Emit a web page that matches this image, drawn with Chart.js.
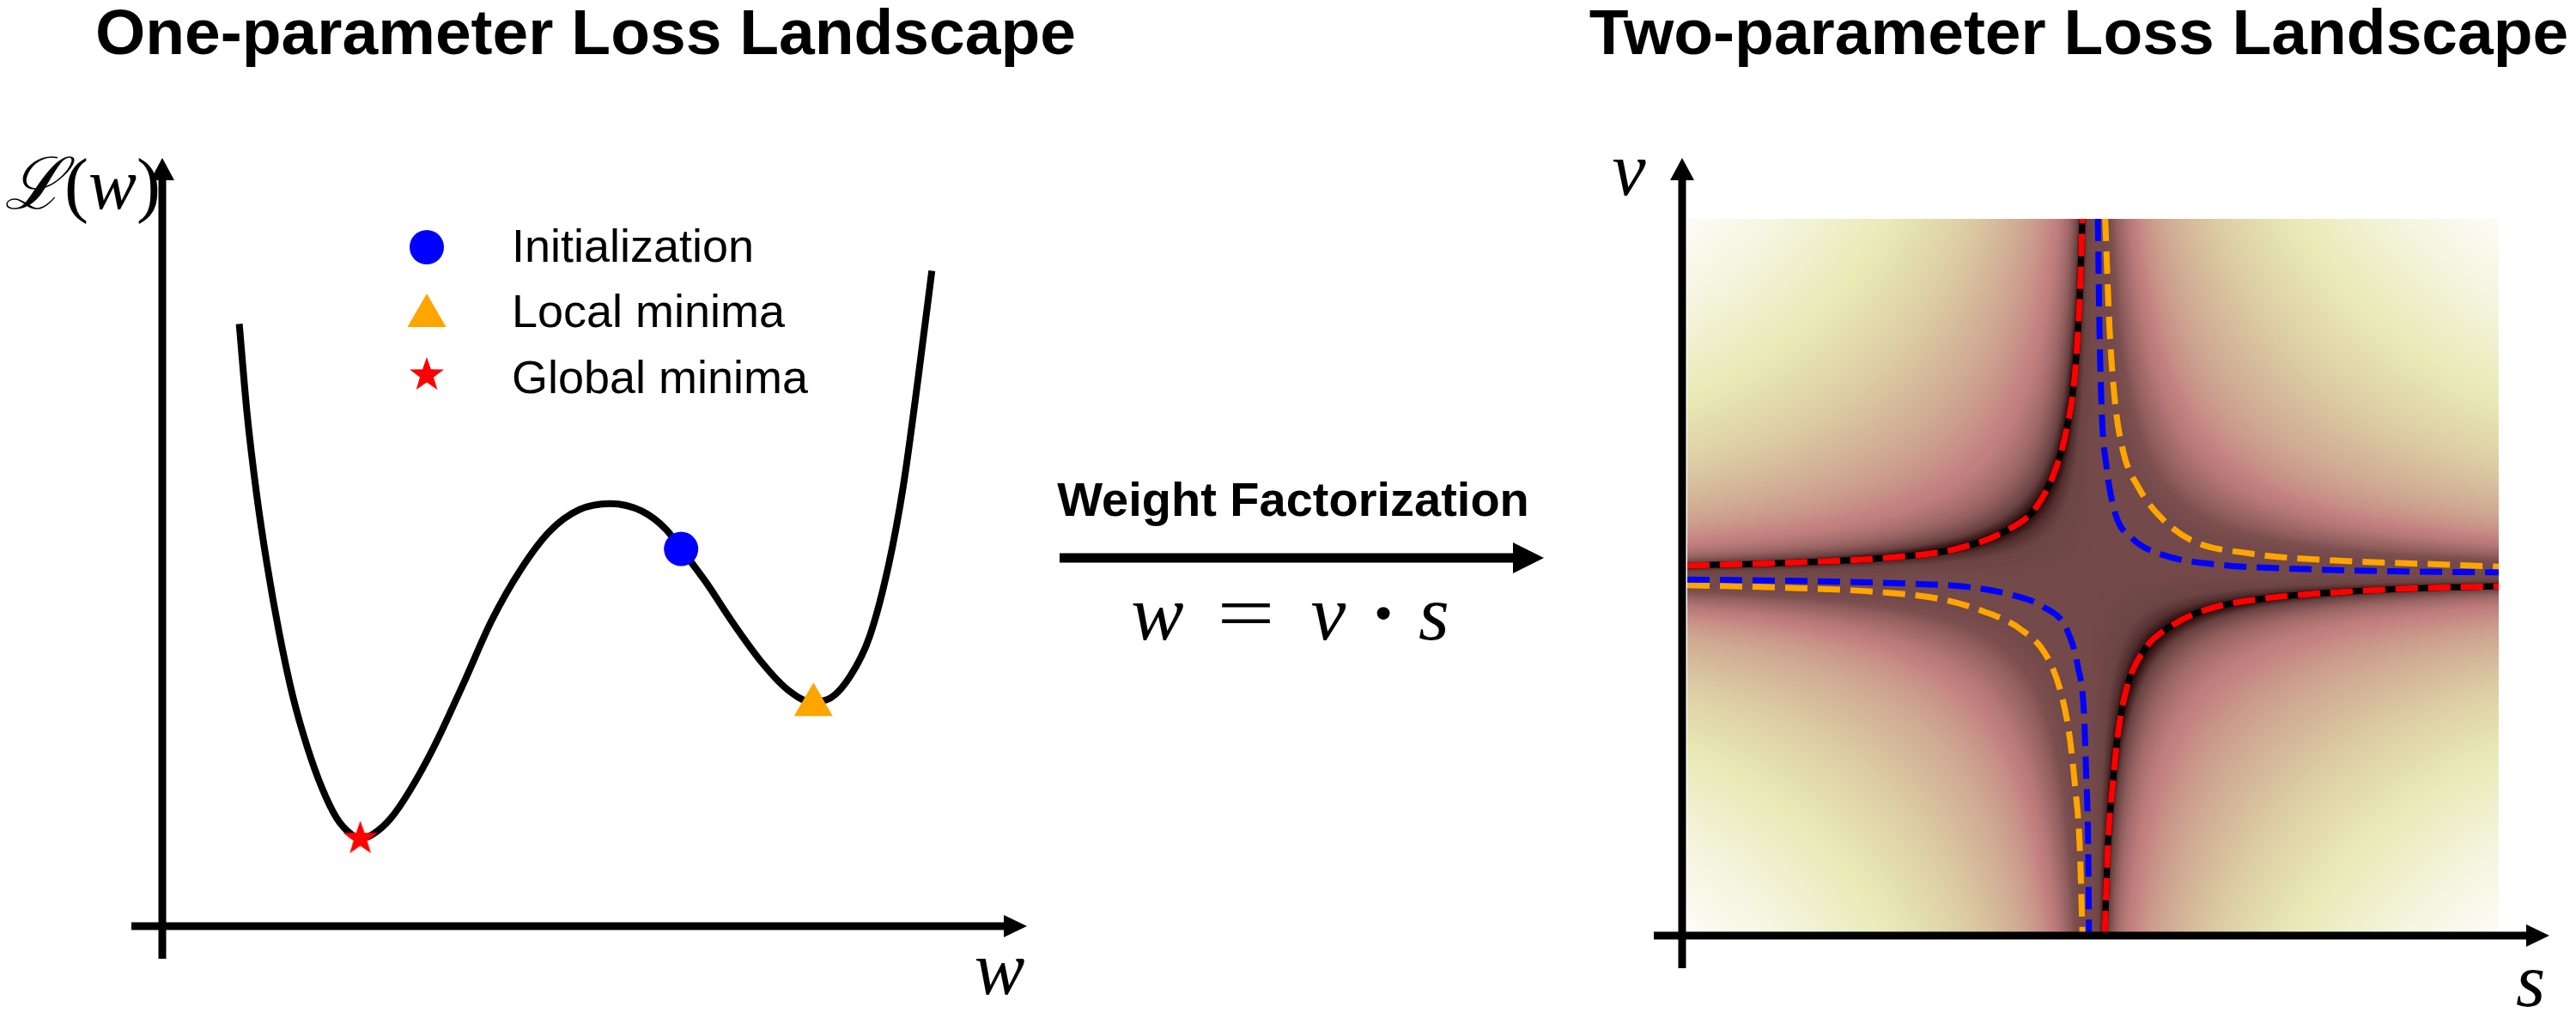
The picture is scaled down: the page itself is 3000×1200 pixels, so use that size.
<!DOCTYPE html>
<html>
<head>
<meta charset="utf-8">
<script src="https://cdn.jsdelivr.net/npm/chart.js@4.4.1/dist/chart.umd.min.js"></script>
<style>
  body { margin: 0; width: 3000px; height: 1200px; background: #fff; position: relative; overflow: hidden; }
  canvas { position: absolute; top: 0; }
  .t { position: absolute; line-height: 1; white-space: nowrap; color: #000; }
  .sans { font-family: "Liberation Sans", Arial, sans-serif; }
  .bold { font-weight: bold; }
  .serif { font-family: "Liberation Serif", "DejaVu Serif", serif; }
  .math { font-family: "Liberation Serif", "DejaVu Serif", serif; font-style: italic; }
  .c { transform: translateX(-50%); }
</style>
</head>
<body>
<canvas id="lossChart" width="1850" height="1200" style="left:0;width:1850px;height:1200px"></canvas>
<canvas id="landscapeChart" width="1150" height="1200" style="left:1850px;width:1150px;height:1200px"></canvas>

<div class="t sans bold c" style="left:682px;top:0;font-size:75px">One-parameter Loss Landscape</div>
<div class="t sans bold c" style="left:2421px;top:0;font-size:75px">Two-parameter Loss Landscape</div>

<div class="t sans" style="left:596px;top:259px;font-size:54px">Initialization</div>
<div class="t sans" style="left:596px;top:335px;font-size:54px">Local minima</div>
<div class="t sans" style="left:596px;top:412px;font-size:54px">Global minima</div>

<div class="t math" style="left:5px;top:173px;font-size:84px">ℒ<span class="serif" style="font-style:normal">(</span>w<span class="serif" style="font-style:normal">)</span></div>
<div class="t math c" style="left:1164px;top:1085px;font-size:88px">w</div>
<div class="t math c" style="left:1897px;top:154px;font-size:88px">v</div>
<div class="t math c" style="left:2947px;top:1099px;font-size:88px">s</div>

<div class="t sans bold c" style="left:1506px;top:554px;font-size:56px">Weight Factorization</div>
<div class="t math c" style="left:1348px;top:668px;font-size:92px">w</div>
<div class="t serif" style="left:1451px;top:668px;font-size:92px;transform:translateX(-50%) scaleX(1.3)">=</div>
<div class="t math c" style="left:1547px;top:668px;font-size:92px">v</div>
<div class="t serif bold c" style="left:1611px;top:668px;font-size:92px">·</div>
<div class="t math c" style="left:1670px;top:668px;font-size:92px">s</div>

<script>
// left panel: loss curve (plot units 0-10 on both axes)
const lossW = [0.89, 0.98, 1.09, 1.21, 1.35, 1.51, 1.68, 1.85, 2.02, 2.19, 2.29, 2.44, 2.64, 2.86, 3.14, 3.48, 3.81, 4.15, 4.48, 4.82, 5.18, 5.55, 5.83, 6.0, 6.28, 6.61, 6.95, 7.23, 7.51, 7.73, 7.96, 8.18, 8.40, 8.57, 8.74, 8.90];
const lossL = [7.84, 6.68, 5.63, 4.72, 3.83, 2.99, 2.32, 1.79, 1.40, 1.19, 1.14, 1.20, 1.40, 1.76, 2.33, 3.15, 3.98, 4.65, 5.14, 5.42, 5.50, 5.40, 5.16, 4.91, 4.49, 3.93, 3.41, 3.08, 2.92, 2.97, 3.26, 3.77, 4.70, 5.73, 7.12, 8.53];

// marked points: initialization, local minimum, global minimum
const markerNames = ["Initialization", "Local minima", "Global minima"];
const markerW = [6.0, 7.53, 2.29];
const markerL = [4.91, 2.88, 1.14];

// right panel: level curves v·s = const (s, v in -1..1)
const redUpperS = [-1, -0.729, -0.517, -0.340, -0.221, -0.143, -0.095, -0.065, -0.044, -0.033, -0.026];
const redUpperV = [0.029, 0.038, 0.050, 0.075, 0.123, 0.188, 0.291, 0.411, 0.572, 0.772, 1.0];
const redLowerS = [0.029, 0.037, 0.048, 0.063, 0.084, 0.126, 0.190, 0.281, 0.423, 0.598, 0.81, 1];
const redLowerV = [-1.0, -0.75, -0.591, -0.430, -0.310, -0.207, -0.142, -0.094, -0.063, -0.046, -0.034, -0.029];
const blueUpperS = [0.012, 0.016, 0.022, 0.033, 0.054, 0.096, 0.175, 0.317, 0.529, 0.741, 1];
const blueUpperV = [1.0, 0.690, 0.450, 0.308, 0.178, 0.106, 0.058, 0.031, 0.019, 0.013, 0.010];
const blueLowerS = [-1, -0.729, -0.446, -0.307, -0.201, -0.122, -0.065, -0.037, -0.022, -0.017, -0.012, -0.010];
const blueLowerV = [-0.010, -0.014, -0.022, -0.031, -0.053, -0.087, -0.149, -0.255, -0.389, -0.550, -0.75, -1.0];
const orangeUpperS = [0.030, 0.041, 0.054, 0.075, 0.111, 0.168, 0.244, 0.386, 0.598, 0.810, 1];
const orangeUpperV = [1.0, 0.690, 0.490, 0.346, 0.250, 0.163, 0.099, 0.063, 0.043, 0.034, 0.026];
const orangeLowerS = [-1, -0.729, -0.517, -0.375, -0.270, -0.179, -0.116, -0.079, -0.058, -0.044, -0.033, -0.026];
const orangeLowerV = [-0.026, -0.034, -0.046, -0.065, -0.099, -0.149, -0.221, -0.327, -0.447, -0.591, -0.75, -1.0];

// background shading: colour level as a function of w = v·s (0 = darkest, 1 = white)
const heatW = [-1, -0.75, -0.5, -0.3, -0.18, -0.12, -0.085, -0.06, -0.045, -0.035, -0.027, -0.02, -0.012, 0, 0.03, 0.045, 0.065, 0.09, 0.12, 0.18, 0.3, 0.5, 0.75, 1];
const heatLevel = [0.97, 0.88, 0.76, 0.62, 0.5, 0.42, 0.36, 0.26, 0.16, 0.08, 0.0, 0.07, 0.11, 0.125, 0.125, 0.15, 0.24, 0.34, 0.41, 0.5, 0.62, 0.76, 0.88, 0.97];

// "pink" style colour ramp
const pinkStops = [[0, 30, 0, 0], [0.1, 105, 66, 66], [0.2, 145, 93, 93], [0.3, 174, 114, 114], [0.375, 195, 128, 128],
  [0.45, 203, 156, 140], [0.55, 213, 185, 154], [0.65, 223, 211, 168], [0.75, 233, 233, 181], [0.875, 244, 244, 221], [1, 255, 255, 255]];

const lerpTable = (xs, ys, x) => {
  if (x <= xs[0]) return ys[0];
  if (x >= xs[xs.length - 1]) return ys[ys.length - 1];
  let i = 1;
  while (xs[i] < x) i++;
  const f = (x - xs[i - 1]) / (xs[i] - xs[i - 1]);
  return ys[i - 1] + f * (ys[i] - ys[i - 1]);
};

const pinkLut = (() => {
  const lut = [];
  const ts = pinkStops.map(s => s[0]);
  for (let k = 0; k < 512; k++) {
    const t = k / 511;
    lut.push([1, 2, 3].map(c => Math.round(lerpTable(ts, pinkStops.map(s => s[c]), t))));
  }
  return lut;
})();

const drawArrow = (ctx, x1, y1, x2, y2, lw, headLen, headHalf) => {
  const len = Math.hypot(x2 - x1, y2 - y1);
  ctx.save();
  ctx.translate(x2, y2);
  ctx.rotate(Math.atan2(y2 - y1, x2 - x1));
  ctx.fillStyle = "#000";
  ctx.fillRect(-len, -lw / 2, len - headLen + 1, lw);
  ctx.beginPath();
  ctx.moveTo(0, 0);
  ctx.lineTo(-headLen, -headHalf);
  ctx.lineTo(-headLen, headHalf);
  ctx.closePath();
  ctx.fill();
  ctx.restore();
};

const makeStar = (R, color) => {
  const c = document.createElement("canvas");
  const size = Math.ceil(2 * R + 2);
  c.width = c.height = size;
  const g = c.getContext("2d");
  g.fillStyle = color;
  g.beginPath();
  for (let k = 0; k < 10; k++) {
    const r = k % 2 ? R * 0.4 : R;
    const a = -Math.PI / 2 + k * Math.PI / 5;
    g.lineTo(size / 2 + r * Math.cos(a), size / 2 + r * Math.sin(a));
  }
  g.closePath();
  g.fill();
  return c;
};

const starImg = makeStar(21, "#ff0000");
const markerStyles = [
  { pointStyle: "circle", radius: 20, color: "#0000ff" },
  { pointStyle: "triangle", radius: 26, color: "#ffa500" },
  { pointStyle: starImg, radius: 21, color: "#ff0000" },
];

const leftDecor = {
  id: "leftDecor",
  afterDraw(chart) {
    const { ctx, chartArea: a } = chart;
    drawArrow(ctx, a.left, a.bottom + 38, a.left, a.top, 9, 26, 14);
    drawArrow(ctx, a.left - 36, a.bottom, a.right, a.bottom, 9, 27, 13);
    // factorization arrow between the panels
    drawArrow(ctx, 1234, 650, 1798, 650, 11, 36, 18);
    // legend symbols
    const legendY = [288, 368, 437];
    markerStyles.forEach((m, i) => {
      ctx.save();
      ctx.fillStyle = m.color;
      Chart.helpers.drawPoint(ctx, { pointStyle: m.pointStyle, radius: m.radius, rotation: 0, borderWidth: 0 }, 497, legendY[i]);
      ctx.restore();
    });
  },
};

new Chart(document.getElementById("lossChart"), {
  type: "scatter",
  data: {
    datasets: [
      ...markerNames.map((name, i) => ({
        label: name,
        data: [{ x: markerW[i], y: markerL[i] }],
        pointStyle: markerStyles[i].pointStyle,
        pointRadius: markerStyles[i].radius,
        backgroundColor: markerStyles[i].color,
        borderWidth: 0,
        order: 0,
      })),
      {
        label: "Loss",
        data: lossW.map((w, i) => ({ x: w, y: lossL[i] })),
        showLine: true,
        borderColor: "#000",
        borderWidth: 8,
        pointRadius: 0,
        cubicInterpolationMode: "monotone",
        fill: false,
        order: 2,
      },
    ],
  },
  options: {
    responsive: false,
    animation: false,
    layout: { padding: { left: 189, right: 654, top: 184, bottom: 121 } },
    plugins: { legend: { display: false }, tooltip: { enabled: false } },
    scales: {
      x: { type: "linear", min: 0, max: 10, display: false },
      y: { type: "linear", min: 0, max: 10, display: false },
    },
  },
  plugins: [leftDecor],
});

const heatmap = {
  id: "heatmap",
  beforeDatasetsDraw(chart) {
    const { ctx, chartArea: a, scales } = chart;
    const w = Math.round(a.right - a.left);
    const h = Math.round(a.bottom - a.top);
    const off = document.createElement("canvas");
    off.width = w;
    off.height = h;
    const octx = off.getContext("2d");
    const img = octx.createImageData(w, h);
    const sCol = [];
    for (let i = 0; i < w; i++) sCol.push(scales.x.getValueForPixel(a.left + i + 0.5));
    for (let j = 0; j < h; j++) {
      const v = scales.y.getValueForPixel(a.top + j + 0.5);
      for (let i = 0; i < w; i++) {
        const t = lerpTable(heatW, heatLevel, sCol[i] * v);
        const col = pinkLut[Math.max(0, Math.min(511, Math.round(t * 511)))];
        const p = (j * w + i) * 4;
        img.data[p] = col[0];
        img.data[p + 1] = col[1];
        img.data[p + 2] = col[2];
        img.data[p + 3] = 255;
      }
    }
    octx.putImageData(img, 0, 0);
    ctx.drawImage(off, a.left, a.top, w, h);
  },
  afterDraw(chart) {
    const { ctx, chartArea: a } = chart;
    drawArrow(ctx, a.left - 6, a.bottom + 41, a.left - 6, a.top - 71, 9, 26, 14);
    drawArrow(ctx, a.left - 39, a.bottom + 3, a.right + 59, a.bottom + 3, 9, 27, 13);
  },
};

const branch = (sArr, vArr, color, dashed, order) => ({
  data: sArr.map((s, i) => ({ x: s, y: vArr[i] })),
  showLine: true,
  borderColor: color,
  borderWidth: 7,
  borderDash: dashed ? [26, 12] : [],
  borderCapStyle: "butt",
  pointRadius: 0,
  cubicInterpolationMode: "monotone",
  fill: false,
  order,
});

new Chart(document.getElementById("landscapeChart"), {
  type: "scatter",
  data: {
    datasets: [
      branch(redUpperS, redUpperV, "#000", false, 3),
      branch(redLowerS, redLowerV, "#000", false, 3),
      branch(redUpperS, redUpperV, "#ff0000", true, 2),
      branch(redLowerS, redLowerV, "#ff0000", true, 2),
      branch(orangeUpperS, orangeUpperV, "#ffa500", true, 1),
      branch(orangeLowerS, orangeLowerV, "#ffa500", true, 1),
      branch(blueUpperS, blueUpperV, "#0000ff", true, 0),
      branch(blueLowerS, blueLowerV, "#0000ff", true, 0),
    ],
  },
  options: {
    responsive: false,
    animation: false,
    layout: { padding: { left: 115, right: 90, top: 255, bottom: 113 } },
    plugins: { legend: { display: false }, tooltip: { enabled: false } },
    scales: {
      x: { type: "linear", min: -1, max: 1, display: false },
      y: { type: "linear", min: -1, max: 1, display: false },
    },
  },
  plugins: [heatmap],
});
</script>
</body>
</html>
